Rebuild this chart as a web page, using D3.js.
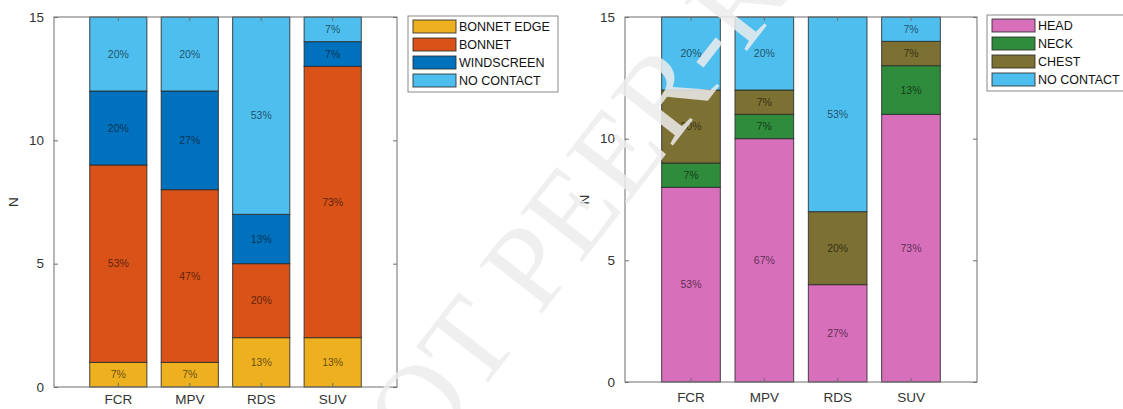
<!DOCTYPE html>
<html>
<head>
<meta charset="utf-8">
<script src="https://cdn.jsdelivr.net/npm/d3@7"></script>
<style>
    body { margin: 0; background: #fff; }
    svg { display: block; font-family: "Liberation Sans", Arial, sans-serif; }
</style>
</head>
<body>
<div id="chart"></div>
<script>
// data (counts out of 15 per vehicle type)
const vehicles = ["FCR", "MPV", "RDS", "SUV"];

const impactZones = ["BONNET EDGE", "BONNET", "WINDSCREEN", "NO CONTACT"];
const bonnetEdge = [1, 1, 2, 2];
const bonnet = [8, 7, 3, 11];
const windscreen = [3, 4, 2, 1];
const noContactZone = [3, 3, 8, 1];

const bodyParts = ["HEAD", "NECK", "CHEST", "NO CONTACT"];
const head = [8, 10, 4, 11];
const neck = [1, 1, 0, 2];
const chest = [3, 1, 3, 1];
const noContactBody = [3, 3, 8, 1];

const yTicks = [0, 5, 10, 15];

const width = 1123, height = 409;

const svg = d3.select("#chart")
    .append("svg")
    .attr("width", width)
    .attr("height", height);

function buildRows(keys, seriesList) {
    return vehicles.map((v, i) => {
        const row = { vehicle: v, total: 0 };
        keys.forEach((k, j) => {
            row[k] = seriesList[j][i];
            row.total += seriesList[j][i];
        });
        return row;
    });
}

function drawChart(opts) {
    const rows = buildRows(opts.keys, opts.series);

    const x = d3.scaleBand()
        .domain(vehicles)
        .range([opts.left, opts.right])
        .paddingInner(0.2)
        .paddingOuter(0.5);

    const y = d3.scaleLinear()
        .domain([0, 15])
        .range([opts.bottom, opts.top]);

    const color = d3.scaleOrdinal()
        .domain(opts.keys)
        .range(opts.colors);

    const stacked = d3.stack().keys(opts.keys)(rows);

    const g = svg.append("g");

    // bars
    const layers = g.selectAll(".layer")
        .data(stacked)
        .enter()
        .append("g")
        .attr("fill", d => color(d.key));

    layers.selectAll("rect")
        .data(d => d.filter(s => s[1] - s[0] > 0))
        .enter()
        .append("rect")
        .attr("x", d => x(d.data.vehicle))
        .attr("width", x.bandwidth())
        .attr("y", d => y(d[1]))
        .attr("height", d => y(d[0]) - y(d[1]))
        .attr("stroke", "#2a2a2a")
        .attr("stroke-opacity", 0.85)
        .attr("stroke-width", 1);

    // percentage labels
    layers.selectAll("text")
        .data(d => d.filter(s => s[1] - s[0] > 0))
        .enter()
        .append("text")
        .attr("x", d => x(d.data.vehicle) + x.bandwidth() / 2)
        .attr("y", d => y((d[0] + d[1]) / 2))
        .attr("dy", "0.35em")
        .attr("text-anchor", "middle")
        .style("font-size", "10.5px")
        .style("fill", "#000")
        .style("fill-opacity", 0.6)
        .text(d => Math.round((d[1] - d[0]) / d.data.total * 100) + "%");

    // axes box (MATLAB style, ticks inside)
    const axisColor = "#6e6e6e";
    g.append("rect")
        .attr("x", opts.left)
        .attr("y", opts.top)
        .attr("width", opts.right - opts.left)
        .attr("height", opts.bottom - opts.top)
        .attr("fill", "none")
        .attr("stroke", axisColor)
        .attr("stroke-width", 1);

    g.append("g")
        .attr("transform", "translate(" + opts.left + ",0)")
        .call(d3.axisLeft(y).tickValues(yTicks).tickSize(-4).tickPadding(10))
        .call(a => a.select(".domain").remove())
        .call(a => a.selectAll("line").attr("stroke", axisColor))
        .call(a => a.selectAll("text").style("font-size", "13.5px").style("fill", "#333"));

    g.append("g")
        .attr("transform", "translate(" + opts.right + ",0)")
        .call(d3.axisRight(y).tickValues(yTicks).tickSize(-4).tickFormat(""))
        .call(a => a.select(".domain").remove())
        .call(a => a.selectAll("line").attr("stroke", axisColor));

    g.append("g")
        .attr("transform", "translate(0," + opts.bottom + ")")
        .call(d3.axisBottom(x).tickSize(-4).tickPadding(opts.xPad))
        .call(a => a.select(".domain").remove())
        .call(a => a.selectAll("line").attr("stroke", axisColor))
        .call(a => a.selectAll("text").style("font-size", "13.5px").style("fill", "#333"));

    g.append("g")
        .attr("transform", "translate(0," + opts.top + ")")
        .call(d3.axisTop(x).tickSize(-4).tickFormat(""))
        .call(a => a.select(".domain").remove())
        .call(a => a.selectAll("line").attr("stroke", axisColor));

    // y label
    g.append("text")
        .attr("transform", "translate(" + (opts.left - 36) + "," + ((opts.top + opts.bottom) / 2) + ") rotate(-90)")
        .attr("text-anchor", "middle")
        .style("font-size", "13.5px")
        .style("fill", "#333")
        .text("N");

    // legend
    const rowH = 18;
    const legend = g.append("g")
        .attr("transform", "translate(" + opts.legendX + "," + opts.legendY + ")");

    legend.append("rect")
        .attr("x", 0)
        .attr("y", 0)
        .attr("width", opts.legendW)
        .attr("height", rowH * opts.keys.length + 4)
        .attr("fill", "#fff")
        .attr("stroke", "#8a8a8a");

    const items = legend.selectAll(".item")
        .data(opts.keys)
        .enter()
        .append("g")
        .attr("transform", (d, i) => "translate(5," + (4 + i * rowH) + ")");

    items.append("rect")
        .attr("width", 43)
        .attr("height", 13)
        .attr("fill", d => color(d))
        .attr("stroke", "#2a2a2a")
        .attr("stroke-opacity", 0.85);

    items.append("text")
        .attr("x", 46)
        .attr("y", 7)
        .attr("dy", "0.35em")
        .style("font-size", "12.5px")
        .style("fill", "#111")
        .text(d => d);
}

drawChart({
    keys: impactZones,
    series: [bonnetEdge, bonnet, windscreen, noContactZone],
    colors: ["#EDB120", "#D95319", "#0072BD", "#4DBEEE"],
    left: 54, right: 397, top: 17, bottom: 387, xPad: 7,
    legendX: 408, legendY: 16, legendW: 150
});

drawChart({
    keys: bodyParts,
    series: [head, neck, chest, noContactBody],
    colors: ["#D76FBB", "#2F8C3C", "#7D7033", "#4DBEEE"],
    left: 625, right: 977, top: 17, bottom: 382, xPad: 10,
    legendX: 987, legendY: 15, legendW: 142
});

// watermark
svg.append("text")
    .attr("transform", "translate(718,22) rotate(-52)")
    .attr("text-anchor", "middle")
    .attr("dominant-baseline", "central")
    .style("font-family", "'Liberation Serif', 'Times New Roman', serif")
    .style("font-size", "120px")
    .style("fill", "#ececec")
    .style("fill-opacity", 0.85)
    .text("NOT PEER-REVIEWED");
</script>
</body>
</html>
